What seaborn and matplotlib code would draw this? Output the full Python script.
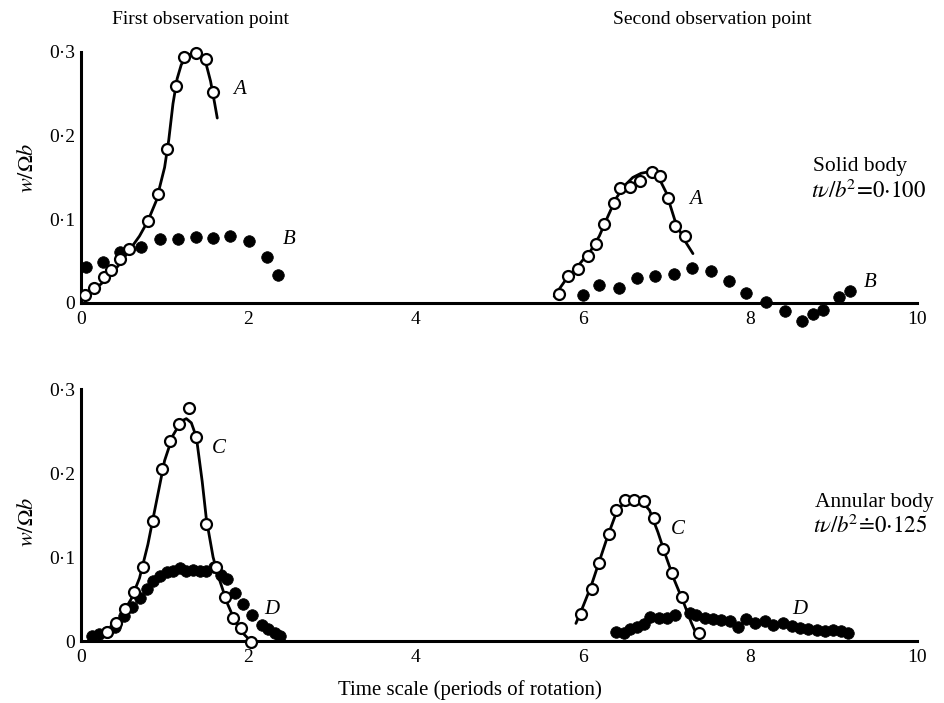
import numpy as np
import pandas as pd
import matplotlib
matplotlib.use("Agg")
import matplotlib.pyplot as plt
import seaborn as sns

# ---- data ----
# solid body, curve A (open circles) and B (filled circles)
a1_x = [0.05, 0.16, 0.27, 0.36, 0.47, 0.58, 0.80, 0.92, 1.03, 1.14, 1.23, 1.37, 1.49, 1.58]
a1_y = [0.010, 0.018, 0.031, 0.039, 0.052, 0.065, 0.098, 0.130, 0.184, 0.259, 0.294, 0.299, 0.291, 0.252]
a1_fit_x = [0.0, 0.15, 0.3, 0.45, 0.6, 0.7, 0.8, 0.9, 1.0, 1.05, 1.1, 1.15, 1.2, 1.3, 1.4, 1.48, 1.55, 1.6, 1.63]
a1_fit_y = [0.005, 0.015, 0.028, 0.045, 0.066, 0.080, 0.098, 0.122, 0.162, 0.195, 0.238, 0.268, 0.285, 0.297, 0.299, 0.292, 0.265, 0.238, 0.221]
b1_x = [0.06, 0.26, 0.47, 0.72, 0.94, 1.16, 1.38, 1.58, 1.78, 2.01, 2.22, 2.36]
b1_y = [0.043, 0.049, 0.061, 0.067, 0.076, 0.076, 0.079, 0.078, 0.080, 0.074, 0.055, 0.033]

a2_x = [5.72, 5.82, 5.95, 6.06, 6.16, 6.26, 6.37, 6.45, 6.57, 6.69, 6.83, 6.93, 7.02, 7.11, 7.23]
a2_y = [0.011, 0.032, 0.041, 0.056, 0.070, 0.094, 0.120, 0.138, 0.139, 0.146, 0.156, 0.152, 0.125, 0.092, 0.080]
a2_fit_x = [5.66, 5.8, 5.95, 6.1, 6.2, 6.3, 6.4, 6.5, 6.6, 6.7, 6.8, 6.9, 7.0, 7.1, 7.2, 7.32]
a2_fit_y = [0.008, 0.028, 0.045, 0.063, 0.080, 0.103, 0.125, 0.140, 0.150, 0.155, 0.157, 0.152, 0.132, 0.100, 0.078, 0.059]
b2_x = [6.00, 6.20, 6.43, 6.65, 6.87, 7.09, 7.31, 7.53, 7.75, 7.96, 8.19, 8.42, 8.62, 8.75, 8.87, 9.07, 9.20]
b2_y = [0.010, 0.021, 0.018, 0.030, 0.032, 0.035, 0.042, 0.038, 0.026, 0.012, 0.001, -0.010, -0.021, -0.013, -0.008, 0.007, 0.014]

# annular body, curve C (open circles) and D (filled circles)
c1_x = [0.31, 0.42, 0.53, 0.63, 0.74, 0.86, 0.97, 1.07, 1.17, 1.29, 1.38, 1.50, 1.62, 1.72, 1.82, 1.91, 2.03]
c1_y = [0.011, 0.022, 0.038, 0.058, 0.088, 0.143, 0.205, 0.238, 0.259, 0.278, 0.243, 0.139, 0.088, 0.052, 0.028, 0.015, -0.001]
c1_fit_x = [0.13, 0.3, 0.45, 0.6, 0.7, 0.8, 0.9, 1.0, 1.1, 1.2, 1.26, 1.32, 1.38, 1.45, 1.5, 1.58, 1.65, 1.75, 1.85, 1.95, 2.05]
c1_fit_y = [0.003, 0.010, 0.025, 0.050, 0.075, 0.115, 0.165, 0.215, 0.245, 0.262, 0.265, 0.260, 0.243, 0.190, 0.145, 0.100, 0.075, 0.045, 0.022, 0.008, -0.002]
d1_x = [0.13, 0.21, 0.31, 0.41, 0.51, 0.61, 0.70, 0.79, 0.86, 0.94, 1.03, 1.10, 1.18, 1.26,
        1.34, 1.42, 1.50, 1.59, 1.67, 1.75, 1.84, 1.94, 2.05, 2.16, 2.24, 2.32, 2.38]
d1_y = [0.006, 0.008, 0.011, 0.017, 0.030, 0.040, 0.051, 0.062, 0.072, 0.077, 0.082, 0.083, 0.087, 0.084,
        0.085, 0.084, 0.084, 0.088, 0.079, 0.074, 0.057, 0.044, 0.031, 0.019, 0.014, 0.009, 0.006]

c2_x = [5.98, 6.11, 6.20, 6.31, 6.40, 6.51, 6.62, 6.73, 6.85, 6.96, 7.07, 7.19, 7.39]
c2_y = [0.032, 0.062, 0.093, 0.127, 0.156, 0.168, 0.168, 0.167, 0.147, 0.110, 0.081, 0.053, 0.010]
c2_fit_x = [5.92, 6.0, 6.1, 6.2, 6.3, 6.4, 6.5, 6.6, 6.7, 6.8, 6.9, 7.0, 7.1, 7.2, 7.3, 7.34]
c2_fit_y = [0.021, 0.040, 0.065, 0.095, 0.125, 0.152, 0.166, 0.169, 0.167, 0.156, 0.130, 0.100, 0.072, 0.048, 0.022, 0.013]
d2_x = [6.40, 6.49, 6.57, 6.65, 6.73, 6.81, 6.91, 7.01, 7.11, 7.28, 7.36, 7.46, 7.56, 7.66, 7.76,
        7.86, 7.96, 8.06, 8.18, 8.28, 8.40, 8.50, 8.60, 8.70, 8.80, 8.90, 9.00, 9.09, 9.18]
d2_y = [0.011, 0.009, 0.014, 0.017, 0.020, 0.029, 0.028, 0.027, 0.031, 0.034, 0.031, 0.028, 0.026, 0.025, 0.024,
        0.017, 0.026, 0.022, 0.024, 0.019, 0.022, 0.018, 0.016, 0.014, 0.013, 0.012, 0.013, 0.012, 0.009]

x_ticks = [0, 2, 4, 6, 8, 10]
y_ticks = [0, 0.1, 0.2, 0.3]
y_tick_labels = ["0", "0·1", "0·2", "0·3"]

# ---- style ----
sns.set_style("white")
plt.rcParams["font.family"] = ["Liberation Serif", "DejaVu Serif"]
plt.rcParams["mathtext.fontset"] = "stix"
plt.rcParams["text.color"] = "black"
plt.rcParams["axes.labelcolor"] = "black"

fig = plt.figure(figsize=(9.44, 7.03), dpi=100)
ax1 = fig.add_axes([0.0858, 0.5333, 0.8856, 0.4047])
ax2 = fig.add_axes([0.0858, 0.0762, 0.8856, 0.3820])


def open_pts(ax, x, y):
    sns.scatterplot(x=x, y=y, ax=ax, s=62, color="white", edgecolor="black",
                    linewidth=1.6, zorder=4, legend=False)


def filled_pts(ax, x, y):
    sns.scatterplot(x=x, y=y, ax=ax, s=70, color="black", edgecolor="black",
                    linewidth=0.5, zorder=3, legend=False)


def fit_line(ax, x, y):
    sns.lineplot(x=x, y=y, ax=ax, color="black", linewidth=2.0, sort=False,
                 estimator=None, zorder=2)


fit_line(ax1, a1_fit_x, a1_fit_y)
fit_line(ax1, a2_fit_x, a2_fit_y)
filled_pts(ax1, b1_x, b1_y)
filled_pts(ax1, b2_x, b2_y)
open_pts(ax1, a1_x, a1_y)
open_pts(ax1, a2_x, a2_y)

fit_line(ax2, c1_fit_x, c1_fit_y)
fit_line(ax2, c2_fit_x, c2_fit_y)
filled_pts(ax2, d1_x, d1_y)
filled_pts(ax2, d2_x, d2_y)
open_pts(ax2, c1_x, c1_y)
open_pts(ax2, c2_x, c2_y)

for ax, ylo in ((ax1, -0.03), (ax2, -0.01)):
    ax.set_xlim(0, 10)
    ax.set_ylim(ylo, 0.31)
    ax.spines["top"].set_visible(False)
    ax.spines["right"].set_visible(False)
    ax.spines["bottom"].set_position(("data", 0))
    ax.spines["left"].set_bounds(0, 0.3)
    ax.spines["bottom"].set_bounds(0, 10)
    for s in ("left", "bottom"):
        ax.spines[s].set_linewidth(2.2)
        ax.spines[s].set_color("black")
    ax.set_xticks(x_ticks)
    ax.set_xticklabels([str(t) for t in x_ticks])
    ax.set_yticks(y_ticks)
    ax.set_yticklabels(y_tick_labels)
    ax.tick_params(axis="both", direction="in", length=7, width=2, color="black",
                   labelsize=14, labelcolor="black")
    ax.tick_params(axis="x", pad=6)
    ax.tick_params(axis="y", pad=4)
    ax.set_xlabel("")
    ax.set_ylabel("")
    ax.patch.set_alpha(0)

# curve labels
lab = dict(fontsize=15, style="italic", ha="left", va="center")
ax1.text(1.82, 0.255, "A", **lab)
ax1.text(2.42, 0.076, "B", **lab)
ax1.text(7.28, 0.124, "A", **lab)
ax1.text(9.36, 0.024, "B", **lab)
ax2.text(1.57, 0.230, "C", **lab)
ax2.text(2.19, 0.037, "D", **lab)
ax2.text(7.06, 0.133, "C", **lab)
ax2.text(8.51, 0.037, "D", **lab)

# annotations
fig.text(813 / 944, 1 - 167 / 703, "Solid body", fontsize=15.5, ha="left", va="center")
fig.text(811 / 944, 1 - 191 / 703, r"$t\nu/b^{\!2}\!=\!0{\cdot}100$", fontsize=16.5, ha="left", va="center")
fig.text(815 / 944, 1 - 503 / 703, "Annular body", fontsize=15.5, ha="left", va="center")
fig.text(813 / 944, 1 - 526 / 703, r"$t\nu/b^{\!2}\!\doteq\!0{\cdot}125$", fontsize=16.5, ha="left", va="center")

fig.text(112 / 944, 1 - 20 / 703, "First observation point", fontsize=14, ha="left", va="center")
fig.text(613 / 944, 1 - 20 / 703, "Second observation point", fontsize=14, ha="left", va="center")

fig.text(28 / 944, 1 - 168 / 703, r"$w/\Omega b$", fontsize=16, rotation=90, ha="center", va="center")
fig.text(28 / 944, 1 - 522 / 703, r"$w/\Omega b$", fontsize=16, rotation=90, ha="center", va="center")

fig.text(470 / 944, 1 - 690 / 703, "Time scale (periods of rotation)", fontsize=15, ha="center", va="center")

fig.savefig("out.png", dpi=100)
